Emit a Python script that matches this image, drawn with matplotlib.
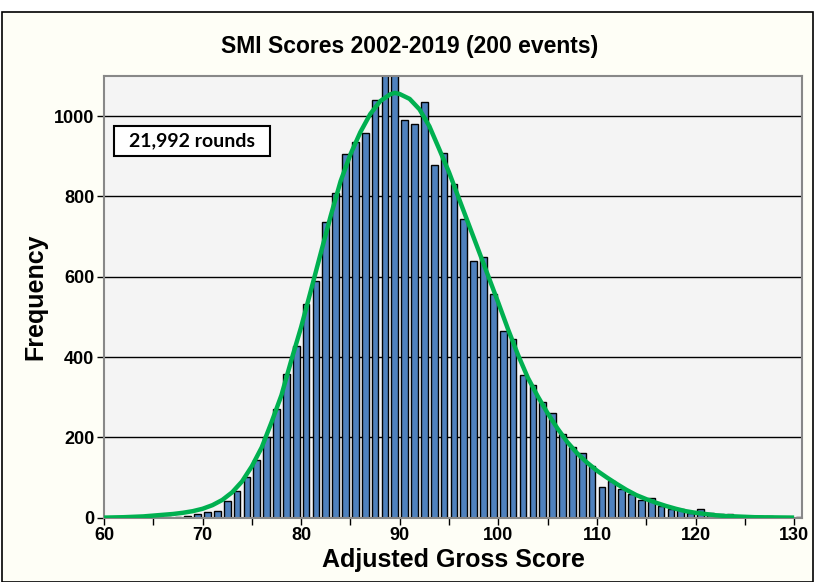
import numpy as np
import matplotlib
matplotlib.use("Agg")
from matplotlib import pyplot as plt
from matplotlib.patches import Rectangle

# histogram: score bin (left edge) and number of rounds
scores = list(range(65, 131))
counts = [1, 1, 2, 4, 8, 15, 17, 42, 67, 102,
          143, 200, 271, 357, 427, 533, 590, 737, 809, 905,
          936, 957, 1040, 1120, 1131, 991, 981, 1035, 878, 908,
          832, 743, 640, 650, 558, 465, 446, 355, 330, 289,
          261, 207, 177, 162, 129, 77, 90, 71, 60, 44,
          50, 29, 21, 21, 12, 21, 12, 8, 9, 5,
          4, 3, 4, 2, 1, 1]

# fitted curve
curve_x = [60, 62, 64, 65, 66, 67, 68, 69, 70, 71, 72, 73, 74, 75, 76, 77, 78, 79,
           80, 81, 82, 83, 84, 85, 86, 87, 88, 89, 89.5, 90, 91, 92, 93, 94, 95,
           96, 97, 98, 99, 100, 101, 102, 103, 104, 105, 106, 107, 108, 109, 110,
           111, 112, 113, 114, 115, 116, 117, 118, 119, 120, 121, 122, 123, 124,
           125, 126, 128, 130]
curve_y = [0, 1, 3, 5, 7, 9, 12, 16, 22, 31, 44, 63, 90, 128, 175, 238, 305, 392,
           475, 567, 660, 752, 838, 905, 960, 1005, 1037, 1054, 1058, 1055, 1043,
           1017, 975, 918, 860, 795, 730, 665, 600, 535, 468, 405, 348, 302, 260,
           222, 188, 160, 137, 117, 100, 84, 69, 56, 46, 37, 29, 22, 16, 12, 9, 6,
           4, 3, 2, 1, 0.5, 0]

title = "SMI Scores 2002-2019 (200 events)"
note = "21,992 rounds"

plt.rcParams['font.family'] = ['Liberation Sans', 'DejaVu Sans']

fig = plt.figure(figsize=(8.16, 5.82), dpi=100, facecolor="white")
fig.patches.append(Rectangle((2 / 816, 0), 811 / 816, 570 / 582, transform=fig.transFigure,
                             facecolor="#FEFEF6", edgecolor="black", linewidth=1.2, zorder=-10))

ax = fig.add_axes([104 / 816, 1 - 517.6 / 582, 698 / 816, (517.6 - 76) / 582])
ax.set_facecolor("#F4F4F4")

ax.bar(np.array(scores) + 0.5, counts, width=0.68, color="#4F81BD",
       edgecolor="black", linewidth=1.0, zorder=2)
ax.plot(curve_x, curve_y, color="#00B050", linewidth=3.2, zorder=3, solid_capstyle="butt")

ax.set_xlim(60, 130.8)
ax.set_ylim(0, 1100)
ax.set_xticks(range(60, 131, 5))
ax.set_xticklabels([str(v) if v % 10 == 0 else "" for v in range(60, 131, 5)])
ax.set_yticks(range(0, 1001, 200))
ax.tick_params(axis="both", labelsize=13, length=5, width=1, direction="out", pad=2)
for lbl in ax.get_xticklabels() + ax.get_yticklabels():
    lbl.set_fontweight("bold")

ax.grid(axis="y", color="black", linewidth=1.0, zorder=1)
ax.set_axisbelow(True)
for side in ["top", "right", "left", "bottom"]:
    ax.spines[side].set_color("#888888")
    ax.spines[side].set_linewidth(1.5)

ax.set_xlabel("Adjusted Gross Score", fontsize=18, fontweight="bold", labelpad=3)
ax.set_ylabel("Frequency", fontsize=18, fontweight="bold", labelpad=5)
fig.text(0.5 * (222 + 597) / 816, 1 - 46 / 582, title, fontsize=16.5, fontweight="bold",
         ha="center", va="center")

# note box
ax.add_patch(Rectangle((10 / 698, (517.6 - 156) / 441.6), 156 / 698, 30 / 441.6,
                       transform=ax.transAxes, facecolor="white", edgecolor="black",
                       linewidth=1.5, zorder=5))
ax.text(88 / 698, (517.6 - 141) / 441.6, note, transform=ax.transAxes, fontsize=14,
        fontweight="bold", family=["Lato", "DejaVu Sans"], va="center", ha="center", zorder=6)

fig.savefig("out.png", dpi=100, facecolor=fig.get_facecolor())
